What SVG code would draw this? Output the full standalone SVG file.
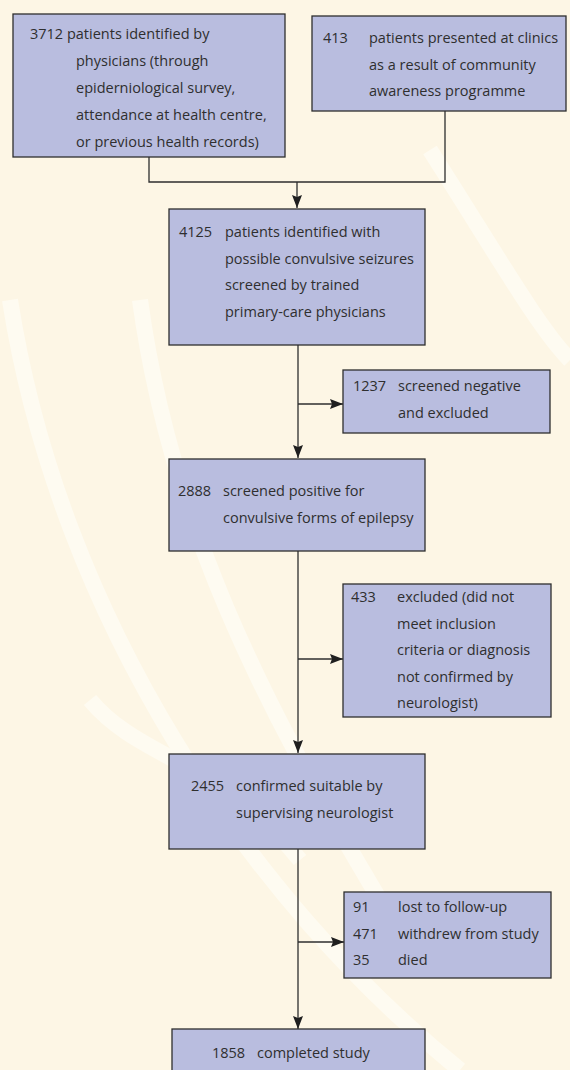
<svg xmlns="http://www.w3.org/2000/svg" width="570" height="1070" viewBox="0 0 570 1070">
<style>
.box{fill:#b9bddf;stroke:#2e2e2e;stroke-width:1.3}
.t{font-family:"Open Sans","Noto Sans","Liberation Sans",sans-serif;font-size:14.5px;fill:#2f2f2f}
.c{fill:none;stroke:#2e2e2e;stroke-width:1.3}
.bg2{fill:none;stroke:#fefbf1;stroke-width:16}
</style>
<defs>
<marker id="ah" markerUnits="userSpaceOnUse" markerWidth="13" markerHeight="10" refX="13" refY="5" orient="auto">
<path d="M0,0 L13,5 L0,10 L2,5 Z" fill="#1f1f1f"/>
</marker>
</defs>
<rect width="570" height="1070" fill="#fdf6e5"/>
<g id="watermark">
<path class="bg2" d="M10,300 C60,620 250,900 460,1070"/>
<path class="bg2" d="M140,300 C170,520 260,700 380,900"/>
<path class="bg2" d="M430,150 C500,260 540,330 570,360"/>
<path class="bg2" d="M90,700 C140,760 220,760 300,860"/>
</g>
<g id="connectors">
<path class="c" d="M149,157 V182 H445 V111"/>
<path class="c" d="M297,182 V208" marker-end="url(#ah)"/>
<path class="c" d="M298,345 V458" marker-end="url(#ah)"/>
<path class="c" d="M298,404 H343" marker-end="url(#ah)"/>
<path class="c" d="M298,551 V753" marker-end="url(#ah)"/>
<path class="c" d="M298,659 H343" marker-end="url(#ah)"/>
<path class="c" d="M298,849 V1029" marker-end="url(#ah)"/>
<path class="c" d="M298,942 H344" marker-end="url(#ah)"/>
</g>
<g id="n1">
<rect class="box" x="13" y="14" width="272" height="143"/>
<text class="t" x="30" y="39">3712 patients identified by</text>
<text class="t" x="76" y="66">physicians (through</text>
<text class="t" x="76" y="93">epiderniological survey,</text>
<text class="t" x="76" y="120">attendance at health centre,</text>
<text class="t" x="76" y="147">or previous health records)</text>
</g>
<g id="n2">
<rect class="box" x="312" y="16" width="254" height="95"/>
<text class="t" x="323" y="43">413</text>
<text class="t" x="369" y="43">patients presented at clinics</text>
<text class="t" x="369" y="70">as a result of community</text>
<text class="t" x="369" y="96">awareness programme</text>
</g>
<g id="n3">
<rect class="box" x="169" y="209" width="256" height="136"/>
<text class="t" x="179" y="237">4125</text>
<text class="t" x="225" y="237">patients identified with</text>
<text class="t" x="225" y="264">possible convulsive seizures</text>
<text class="t" x="225" y="290">screened by trained</text>
<text class="t" x="225" y="317">primary-care physicians</text>
</g>
<g id="n4">
<rect class="box" x="343" y="370" width="207" height="63"/>
<text class="t" x="353" y="391">1237</text>
<text class="t" x="398" y="391">screened negative</text>
<text class="t" x="398" y="418">and excluded</text>
</g>
<g id="n5">
<rect class="box" x="169" y="459" width="256" height="92"/>
<text class="t" x="178" y="496">2888</text>
<text class="t" x="223" y="496">screened positive for</text>
<text class="t" x="223" y="523">convulsive forms of epilepsy</text>
</g>
<g id="n6">
<rect class="box" x="343" y="584" width="208" height="133"/>
<text class="t" x="351" y="602">433</text>
<text class="t" x="397" y="602">excluded (did not</text>
<text class="t" x="397" y="629">meet inclusion</text>
<text class="t" x="397" y="655">criteria or diagnosis</text>
<text class="t" x="397" y="682">not confirmed by</text>
<text class="t" x="397" y="708">neurologist)</text>
</g>
<g id="n7">
<rect class="box" x="169" y="754" width="256" height="95"/>
<text class="t" x="191" y="791">2455</text>
<text class="t" x="236" y="791">confirmed suitable by</text>
<text class="t" x="236" y="818">supervising neurologist</text>
</g>
<g id="n8">
<rect class="box" x="344" y="892" width="207" height="86"/>
<text class="t" x="353" y="912">91</text>
<text class="t" x="398" y="912">lost to follow-up</text>
<text class="t" x="353" y="939">471</text>
<text class="t" x="398" y="939">withdrew from study</text>
<text class="t" x="353" y="965">35</text>
<text class="t" x="398" y="965">died</text>
</g>
<g id="n9">
<rect class="box" x="172" y="1029" width="253" height="50"/>
<text class="t" x="212" y="1058">1858</text>
<text class="t" x="257" y="1058">completed study</text>
</g>
</svg>
